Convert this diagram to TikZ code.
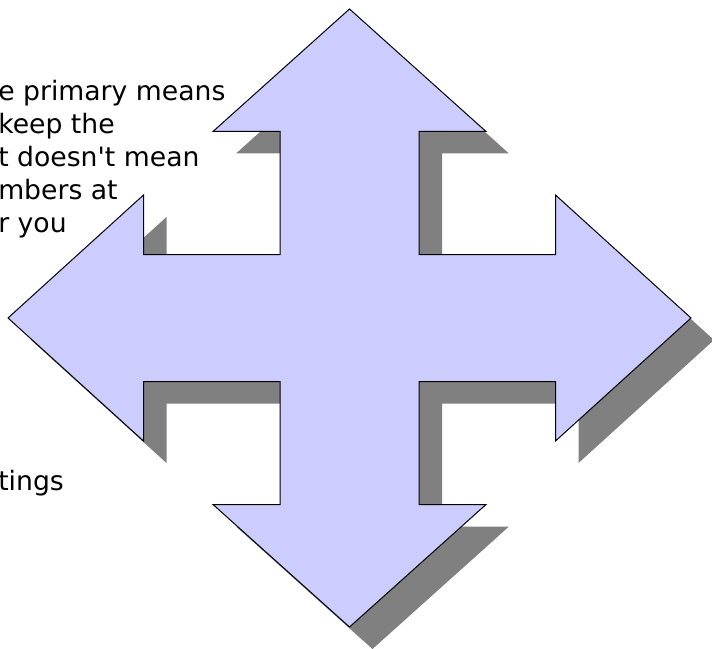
\documentclass[tikz,border=0pt]{standalone}
\usepackage{fontspec}
\setmainfont{DejaVu Sans}[Ligatures=TeXOff]
\usetikzlibrary{positioning}

\definecolor{arrowblue}{HTML}{CCCCFF}
\definecolor{shadowgray}{HTML}{808080}

\tikzset{
    slidetext/.style={anchor=base west, inner sep=0pt, font=\fontsize{20}{25}\selectfont},
    arrowbody/.style={fill=arrowblue, draw=black, line width=0.75pt, line join=miter},
    arrowshadow/.style={fill=shadowgray},
    quadarrow/.pic={
        \path[#1] (0,-309) -- (136.5,-186.5) -- (69.5,-186.5) -- (69.5,-63.5)
            -- (206,-63.5) -- (206,-123) -- (341.5,0) -- (206,123) -- (206,63.5)
            -- (69.5,63.5) -- (69.5,186.5) -- (136.5,186.5) -- (0,309)
            -- (-136.5,186.5) -- (-69.5,186.5) -- (-69.5,63.5) -- (-206,63.5)
            -- (-206,123) -- (-341.5,0) -- (-206,-123) -- (-206,-63.5)
            -- (-69.5,-63.5) -- (-69.5,-186.5) -- (-136.5,-186.5) -- cycle;
    },
}

\begin{document}
\begin{tikzpicture}[x=0.75pt, y=-0.75pt]
    \useasboundingbox (0,0) rectangle (712,648);

    % Slide text, partly cut off
    \node[slidetext] (line1) at (-2, 101) {e primary means};
    \node[slidetext] (line2) at (-2, 134) {keep the};
    \node[slidetext] (line3) at (-2, 167) {t doesn't mean};
    \node[slidetext] (line4) at (-2, 200) {mbers at};
    \node[slidetext] (line5) at (-2, 233) {r you};
    \node[slidetext] (line6) at (-2, 490) {tings};

    % Shadow
    \pic at (372.5, 340) {quadarrow=arrowshadow};

    % Four-way arrow
    \pic at (349.5, 318) {quadarrow=arrowbody};
\end{tikzpicture}
\end{document}
